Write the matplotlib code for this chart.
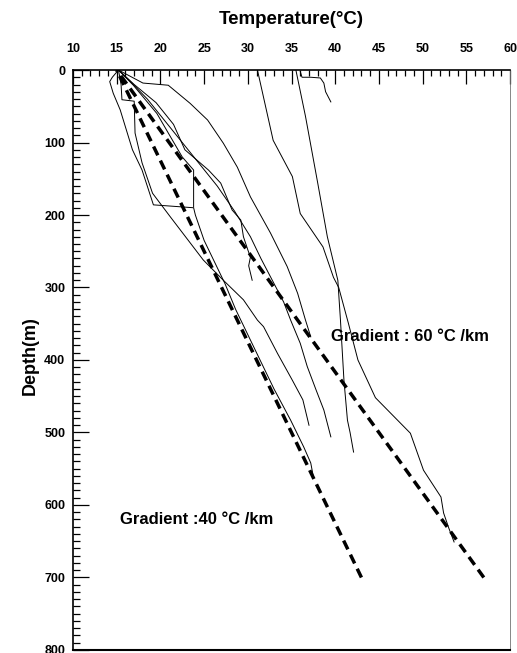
import matplotlib

matplotlib.use("Agg")
import matplotlib.pyplot as plt
from matplotlib.ticker import MultipleLocator

plt.rcParams["font.family"] = ["Liberation Sans", "DejaVu Sans"]
plt.rcParams["font.weight"] = "bold"

# measured borehole temperature profiles: temperature (degC), depth (m)
prof_a_t = [31.1, 32.9, 35.1, 36.0, 38.6, 39.8, 40.4, 41.5, 42.6, 44.6, 48.6, 50.1, 52.1, 52.4, 53.0, 53.6]
prof_a_d = [0, 97, 147, 198, 244, 286, 300, 349, 400, 452, 501, 552, 589, 611, 632, 651]

prof_b_t = [35.5, 36.6, 38.0, 39.1, 40.3, 40.6, 41.0, 41.4, 41.7, 42.1]
prof_b_d = [0, 64, 156, 230, 290, 345, 428, 483, 500, 527]

prof_c_t = [36.0, 36.2, 37.2, 38.3, 38.7, 38.9, 39.5]
prof_c_d = [2, 10, 10, 11, 18, 30, 44]

prof_d_t = [15.2, 18.0, 20.9, 23.4, 25.4, 27.2, 28.8, 30.3, 32.6, 34.5, 35.7, 36.6, 37.2]
prof_d_d = [0, 18, 21, 46, 69, 101, 134, 175, 225, 271, 308, 345, 368]

prof_e_t = [15.2, 15.5, 15.6, 17.0, 17.1, 17.9, 19.1, 21.1, 24.9, 27.2, 29.5, 31.1, 31.8, 33.4, 35.1, 36.3, 37.0]
prof_e_d = [0, 20, 41, 43, 87, 128, 170, 202, 262, 290, 317, 345, 354, 391, 428, 455, 490]

prof_f_t = [15.2, 16.5, 18.5, 20.5, 22.5, 24.5, 26.5, 28.5, 30.3, 31.5, 32.8, 34.1, 34.9, 36.0, 36.8, 37.8, 38.7, 39.5]
prof_f_d = [0, 15, 40, 70, 100, 130, 160, 195, 230, 260, 290, 320, 345, 377, 409, 441, 469, 506]

prof_g_t = [15.2, 14.5, 14.2, 14.6, 15.4, 16.8, 17.9, 19.2, 23.8, 24.0, 25.0, 26.4, 27.4, 28.6, 31.4, 33.0, 34.9, 36.4, 37.2, 37.5]
prof_g_d = [0, 10, 16, 32, 55, 110, 138, 186, 190, 200, 235, 270, 295, 330, 400, 440, 483, 520, 542, 561]

prof_h_t = [15.2, 16.9, 19.6, 22.5, 23.8, 23.8]
prof_h_d = [0, 21, 60, 120, 138, 189]

prof_i_t = [15.2, 17.0, 19.5, 21.5, 22.8, 25.5, 26.9, 28.2, 29.2, 29.5, 30.0, 30.3, 30.1, 30.5]
prof_i_d = [0, 20, 45, 75, 110, 138, 156, 193, 207, 230, 248, 258, 270, 290]

profiles = [
    (prof_a_t, prof_a_d),
    (prof_b_t, prof_b_d),
    (prof_c_t, prof_c_d),
    (prof_d_t, prof_d_d),
    (prof_e_t, prof_e_d),
    (prof_f_t, prof_f_d),
    (prof_g_t, prof_g_d),
    (prof_h_t, prof_h_d),
    (prof_i_t, prof_i_d),
]

# reference gradients from 15 degC at the surface
grad_d = [0, 700]
grad40_t = [15, 43]
grad60_t = [15, 57]

fig = plt.figure(figsize=(5.17, 6.53), dpi=100)
ax = fig.add_axes([0.1412, 0.0046, 0.8453, 0.8882])

for t, d in profiles:
    ax.plot(t, d, color="black", lw=0.7)

# drawn bottom-up so the dash pattern ends cleanly at 700 m
for gt in (grad40_t, grad60_t):
    ax.plot(gt[::-1], grad_d[::-1], color="black", lw=2.5, dashes=(2.8, 1.7))

ax.text(39.5, 368, "Gradient : 60 \u00b0C /km", fontsize=12, va="center")
ax.text(15.4, 620, "Gradient :40 \u00b0C /km", fontsize=12, va="center")

ax.set_xlim(10, 60)
ax.set_ylim(800, 0)
ax.xaxis.tick_top()
ax.xaxis.set_major_locator(MultipleLocator(5))
ax.xaxis.set_minor_locator(MultipleLocator(1))
ax.yaxis.set_major_locator(MultipleLocator(100))
ax.yaxis.set_minor_locator(MultipleLocator(10))
ax.tick_params(which="both", direction="in", width=0.9, labelsize=9)
ax.tick_params(axis="x", which="major", length=10, pad=10.5)
ax.tick_params(axis="x", which="minor", length=4.3)
ax.tick_params(axis="y", which="major", length=11.5, pad=5.5)
ax.tick_params(axis="y", which="minor", length=5)

for side in ("top", "left"):
    ax.spines[side].set_linewidth(1.2)
ax.spines["bottom"].set_linewidth(1.5)
ax.spines["right"].set_linewidth(0.6)
ax.spines["right"].set_color("0.45")

fig.text(291.5 / 517, 1 - 20 / 653, "Temperature(\u00b0C)", ha="center", va="center", fontsize=13.5)
fig.text(30 / 517, 1 - 356 / 653, "Depth(m)", rotation=90, ha="center", va="center", fontsize=13)

fig.savefig("out.png", dpi=100)
